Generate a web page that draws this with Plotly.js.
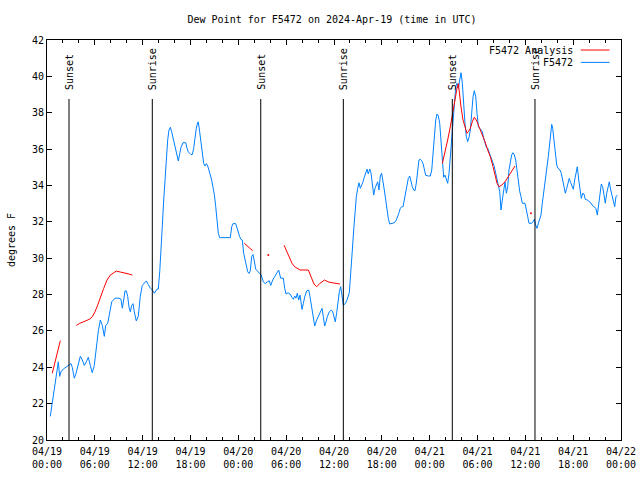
<!DOCTYPE html>
<html>
<head>
<meta charset="utf-8">
<script src="https://cdn.plot.ly/plotly-3.0.1.min.js"></script>
<style>html,body{margin:0;padding:0;background:#fff;}#chart{width:640px;height:480px;}</style>
</head>
<body>
<div id="chart"></div>
<script>
// Hours after 2024-04-19 00:00 UTC
var startDate = '2024-04-19';
var blueHours = [
0.41,0.66,0.92,1.09,1.25,1.42,1.59,1.76,2.04,2.35,2.67,3.01,3.17,3.42,3.60,3.85,4.18,4.43,4.68,4.93,
5.18,5.43,5.68,5.93,6.18,6.44,6.69,6.94,7.19,7.36,7.61,7.86,8.12,8.53,9.03,9.28,9.45,9.62,9.78,9.95,
10.12,10.29,10.45,10.62,10.79,10.95,11.20,11.45,11.70,11.95,12.21,12.46,12.71,12.96,13.21,13.46,13.80,13.96,14.14,14.30,
14.46,14.64,14.80,14.97,15.14,15.30,15.47,15.64,15.81,15.97,16.14,16.31,16.47,16.65,16.81,17.06,17.40,17.56,17.72,18.06,
18.23,18.40,18.56,18.73,18.90,18.98,19.15,19.32,19.48,19.66,19.82,19.98,20.16,20.32,20.48,20.66,20.82,20.99,21.16,21.32,
21.49,21.66,22.99,23.17,23.33,23.67,23.83,24.00,24.17,24.34,24.50,24.67,24.84,25.00,25.18,25.34,25.50,25.68,25.84,26.00,
26.18,26.38,26.63,26.88,27.13,27.38,27.63,27.88,28.06,28.31,28.56,28.81,29.06,29.31,29.64,29.82,29.98,30.23,30.48,30.73,
30.90,31.07,31.23,31.40,31.57,31.74,31.90,31.99,32.15,32.33,32.58,32.83,32.99,33.15,33.33,33.49,33.58,33.83,34.08,34.33,
34.50,34.66,34.83,35.00,35.16,35.41,35.66,35.84,36.00,36.16,36.34,36.50,36.67,36.84,37.00,37.17,37.42,37.67,37.92,38.13,
38.30,38.47,38.63,38.80,38.97,39.14,39.30,39.48,39.64,39.80,39.98,40.14,40.30,40.48,40.64,40.81,40.98,41.14,41.31,41.48,
41.64,41.81,41.98,42.15,42.31,42.49,42.65,42.81,42.99,43.24,43.57,43.82,43.99,44.15,44.32,44.49,44.66,44.82,45.00,45.16,
45.32,45.50,45.66,45.82,46.00,46.16,46.32,46.50,46.66,46.83,47.00,47.17,47.33,47.50,47.83,48.08,48.26,48.42,48.58,48.76,
48.92,49.09,49.26,49.42,49.59,49.76,49.92,50.09,50.26,50.43,50.59,50.77,50.93,51.09,51.27,51.43,51.60,51.77,51.93,52.10,
52.27,52.43,52.60,52.77,52.94,53.10,53.27,53.44,53.60,53.78,53.94,54.11,54.28,54.44,54.60,54.78,54.94,55.11,55.28,55.44,
55.61,55.78,55.95,56.11,56.28,56.45,56.61,56.79,56.86,56.95,57.11,57.29,57.45,57.62,57.79,57.95,58.12,58.29,58.45,58.62,
58.79,58.96,59.12,59.30,59.46,59.62,59.96,60.12,60.30,60.46,60.80,60.96,61.13,61.30,61.46,61.63,61.80,61.96,62.13,62.30,
62.47,62.68,62.88,63.10,63.31,63.43,63.60,63.76,63.94,64.10,64.35,64.51,64.69,64.85,65.02,65.19,65.35,65.51,65.69,65.85,
66.02,66.19,66.36,66.52,66.70,66.86,67.02,67.20,67.36,67.52,67.77,68.20,68.36,68.61,68.86,69.03,69.20,69.37,69.53,69.70,
69.87,70.03,70.21,70.37,70.53,70.71,70.87,71.04,71.21,71.37,71.54
];
var blueVals = [
21.3,22.0,22.9,23.2,23.7,24.3,23.5,23.75,23.9,24.0,24.1,24.2,24.0,23.4,23.6,24.1,24.6,24.4,24.1,24.3,
24.55,24.1,23.7,24.1,25.1,26.0,26.6,26.3,25.7,26.3,26.4,27.05,27.6,27.8,27.8,27.75,27.25,27.7,28.2,28.2,
27.9,27.3,27.05,27.4,27.5,27.05,26.55,26.8,27.9,28.5,28.65,28.75,28.55,28.35,28.25,28.07,28.3,28.3,29.25,30.27,
31.73,33.2,34.3,35.5,36.5,37.05,37.2,36.95,36.6,36.2,35.85,35.6,35.35,35.75,36.1,36.35,36.35,36.05,35.85,35.7,
35.7,36.05,36.7,37.15,37.45,37.5,36.95,36.4,36.05,35.2,35.07,35.2,35.07,34.85,34.6,34.3,33.9,33.5,32.85,31.9,
31.37,31.13,31.13,31.73,31.9,31.9,31.65,31.37,31.18,31.03,31.0,30.27,29.9,29.53,29.25,29.16,29.3,30.1,30.2,29.85,
29.4,29.3,29.2,29.07,28.7,28.6,28.7,28.76,28.5,28.8,28.98,29.17,29.35,28.9,28.9,28.34,28.03,28.1,28.03,27.85,
27.74,27.92,27.8,28.07,27.7,27.97,27.6,27.18,27.5,27.88,28.2,28.25,27.88,27.42,27.05,26.6,26.27,26.6,26.87,27.15,
27.24,26.78,26.27,26.5,26.78,27.05,27.15,27.05,26.78,26.5,27.0,27.7,28.16,28.43,27.8,27.42,27.5,27.74,28.1,29.17,
30.45,31.55,32.65,33.38,33.84,34.15,33.84,34.02,34.2,34.45,34.7,34.9,34.63,34.9,34.7,33.93,33.47,33.84,34.08,34.2,
33.75,34.52,34.67,34.3,33.75,33.2,32.65,32.19,31.88,31.92,31.95,32.1,32.28,32.5,32.74,32.83,32.83,33.2,33.75,33.93,
34.39,34.52,34.2,33.93,33.75,33.71,34.12,34.85,35.4,35.44,35.36,35.2,34.81,34.56,34.52,34.52,34.85,35.77,36.87,37.6,
37.93,37.82,37.42,36.32,35.2,34.45,34.57,34.34,34.12,34.67,35.58,36.59,37.6,38.7,39.43,39.62,39.34,39.8,40.2,39.62,
38.33,37.42,36.68,36.41,36.65,37.05,37.97,38.88,39.21,38.88,37.97,37.23,37.14,37.05,36.96,36.59,36.32,36.1,36.05,35.86,
35.68,35.4,35.2,35.03,34.67,34.3,33.93,33.66,33.2,32.65,33.2,33.93,34.2,33.57,33.93,34.85,35.4,35.68,35.8,35.68,
35.4,34.85,34.12,33.66,33.38,33.02,33.02,32.74,32.28,31.92,31.92,32.0,32.14,31.82,31.64,31.92,32.2,32.37,33.02,33.57,
34.12,34.67,35.58,36.5,37.36,37.14,36.5,35.68,35.12,34.94,34.85,34.67,34.3,33.93,33.57,33.84,34.12,34.39,34.15,33.93,
33.79,34.3,34.67,35.03,34.3,33.75,33.29,33.57,33.53,33.24,33.2,33.05,32.93,32.83,32.74,32.37,33.02,33.66,34.08,33.93,
33.47,33.02,33.57,33.84,34.2,33.75,33.47,33.2,32.83,33.38,33.47
];
// F5472 Analysis (null = gap)
var redHours = [
0.66,1.00,1.34,1.67,2.5,
3.68,4.10,4.52,4.93,5.36,5.68,6.02,6.36,6.69,7.11,7.53,7.94,8.28,8.69,9.19,9.78,10.29,10.70,17.0,
24.75,25.21,25.80,28.0,
29.73,30.07,30.39,30.73,31.07,31.40,31.74,32.78,33.20,33.49,33.83,34.24,34.83,35.25,35.75,36.25,36.75,43.0,
49.59,49.92,50.26,50.59,50.93,51.18,51.43,51.60,51.77,51.93,52.18,52.43,52.68,52.85,53.10,53.35,53.60,53.85,54.11,54.35,
54.60,54.94,55.28,55.61,55.95,56.20,56.45,56.70,57.04,57.45,57.87,58.29,58.70
];
var redVals = [
23.67,24.3,24.95,25.46,null,
26.3,26.42,26.49,26.56,26.65,26.78,27.05,27.42,27.88,28.34,28.8,29.07,29.17,29.29,29.24,29.2,29.13,29.07,null,
30.82,30.62,30.41,null,
30.72,30.36,29.99,29.72,29.53,29.44,29.35,29.35,28.9,28.58,28.43,28.62,28.8,28.7,28.65,28.62,28.58,null,
35.2,35.77,36.5,37.23,38.15,38.88,39.34,39.6,38.88,38.33,37.6,37.23,36.87,36.96,37.14,37.5,37.75,37.6,37.32,37.14,
36.87,36.41,35.95,35.58,35.03,34.57,34.12,33.93,34.02,34.2,34.48,34.76,35.07
];
var redDotHours = [27.76, 60.71];
var redDotVals = [30.17, 32.47];

var sunHours = [2.76, 13.21, 26.81, 37.17, 50.84, 61.21];
var sunLabels = ['Sunset','Sunrise','Sunset','Sunrise','Sunset','Sunrise'];

var tickHours = [0,6,12,18,24,30,36,42,48,54,60,66,72];
var tickLabels = ['04/19<br>00:00','04/19<br>06:00','04/19<br>12:00','04/19<br>18:00',
  '04/20<br>00:00','04/20<br>06:00','04/20<br>12:00','04/20<br>18:00',
  '04/21<br>00:00','04/21<br>06:00','04/21<br>12:00','04/21<br>18:00','04/22<br>00:00'];
var yTicks = [20,22,24,26,28,30,32,34,36,38,40,42];

var seriesNames = ['F5472 Analysis', 'F5472'];
var seriesColors = ['#ff0000', '#0080ff'];

var base = Date.UTC(2024, 3, 19);
function toTime(h) { return base + h * 3600000; }

var FONT = 'DejaVu Sans Mono, monospace';

var traces = [
  {x: blueHours.map(toTime), y: blueVals, type: 'scatter', mode: 'lines',
   line: {color: seriesColors[1], width: 1}, name: seriesNames[1], showlegend: false},
  {x: redHours.map(toTime), y: redVals, type: 'scatter', mode: 'lines', connectgaps: false,
   line: {color: seriesColors[0], width: 1}, name: seriesNames[0], showlegend: false},
  {x: redDotHours.map(toTime), y: redDotVals, type: 'scatter', mode: 'markers',
   marker: {color: seriesColors[0], size: 2}, name: seriesNames[0], showlegend: false}
];

var shapes = [];
var annotations = [];
sunHours.forEach(function (h, i) {
  shapes.push({type: 'line', xref: 'x', yref: 'paper', x0: toTime(h), x1: toTime(h), y0: 0, y1: 0.8525,
    line: {color: '#000', width: 1}});
  annotations.push({xref: 'x', yref: 'paper', x: toTime(h), y: 0.87, text: sunLabels[i],
    textangle: -90, showarrow: false, xanchor: 'center', yanchor: 'bottom',
    font: {family: FONT, size: 10, color: '#000'}});
});
// legend (gnuplot style: text then sample on the right)
var legY = [0.975, 0.944];
seriesNames.forEach(function (n, i) {
  annotations.push({xref: 'paper', yref: 'paper', x: 0.919, y: legY[i], text: n, showarrow: false,
    xanchor: 'right', yanchor: 'middle', font: {family: FONT, size: 10, color: '#000'}});
  shapes.push({type: 'line', xref: 'paper', yref: 'paper', x0: 0.930, x1: 0.980, y0: legY[i], y1: legY[i],
    line: {color: seriesColors[i], width: 1}});
});

var layout = {
  width: 640, height: 480,
  margin: {l: 47, r: 19, t: 40, b: 40},
  paper_bgcolor: '#fff', plot_bgcolor: '#fff',
  font: {family: FONT, size: 10, color: '#000'},
  title: {text: 'Dew Point for F5472 on 2024-Apr-19 (time in UTC)', x: 0.4965, xref: 'paper', xanchor: 'center',
    y: 0.96, yref: 'container', yanchor: 'middle', font: {family: FONT, size: 10, color: '#000'}},
  showlegend: false,
  xaxis: {type: 'date', range: [toTime(0), toTime(72)], tickmode: 'array',
    tickvals: tickHours.map(toTime), ticktext: tickLabels,
    ticks: 'inside', ticklen: 5, tickcolor: '#000', tickwidth: 1, ticklabelstandoff: 2,
    minor: {dtick: 2 * 3600000, tick0: toTime(0), ticks: 'inside', ticklen: 3, tickcolor: '#000', showgrid: false},
    showline: true, linecolor: '#000', linewidth: 1, mirror: 'ticks', showgrid: false, zeroline: false,
    automargin: false, tickfont: {family: FONT, size: 10, color: '#000'}},
  yaxis: {range: [20, 42], tickmode: 'array', tickvals: yTicks, ticktext: yTicks.map(String),
    ticks: 'inside', ticklen: 5, tickcolor: '#000',
    showline: true, linecolor: '#000', linewidth: 1, mirror: 'ticks', showgrid: false, zeroline: false,
    automargin: false, tickfont: {family: FONT, size: 10, color: '#000'},
    title: {text: 'degrees F', standoff: 14, font: {family: FONT, size: 10, color: '#000'}}},
  shapes: shapes,
  annotations: annotations
};

Plotly.newPlot('chart', traces, layout, {staticPlot: true, displayModeBar: false});
</script>
</body>
</html>
